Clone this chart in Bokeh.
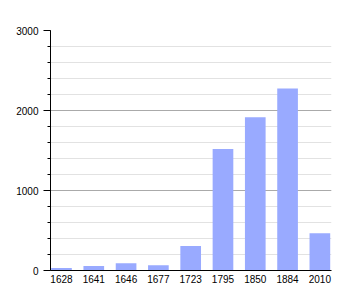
from bokeh.plotting import figure
from bokeh.models import Range1d, FixedTicker, SingleIntervalTicker
from bokeh.embed import file_html
from bokeh.resources import INLINE

years = ["1628", "1641", "1646", "1677", "1723", "1795", "1850", "1884", "2010"]
population = [30, 55, 90, 65, 305, 1520, 1915, 2275, 465]

xs = list(range(len(years)))

p = figure(width=360, height=300, output_backend="svg", toolbar_location=None,
           x_range=Range1d(-0.34, len(years) - 1 + 0.36), y_range=Range1d(0, 3000),
           min_border_left=50, min_border_right=29, min_border_top=30, min_border_bottom=30)
p.outline_line_color = None
p.background_fill_color = "white"
p.border_fill_color = "white"

p.vbar(x=xs, top=population, width=0.64, color="#99AAFF", line_color=None)

# y axis
p.yaxis.ticker = SingleIntervalTicker(interval=1000, num_minor_ticks=5)
p.yaxis.axis_line_color = "black"
p.yaxis.major_tick_line_color = "black"
p.yaxis.minor_tick_line_color = "black"
p.yaxis.major_tick_in = 0
p.yaxis.major_tick_out = 7
p.yaxis.minor_tick_in = 0
p.yaxis.minor_tick_out = 3
p.yaxis.major_label_standoff = 5
p.yaxis.major_label_text_font = "Liberation Sans"
p.yaxis.major_label_text_font_size = "10px"
p.yaxis.major_label_text_color = "black"

# x axis
p.xaxis.ticker = FixedTicker(ticks=xs)
p.xaxis.major_label_overrides = {i: y for i, y in enumerate(years)}
p.xaxis.axis_line_color = "black"
p.xaxis.major_tick_line_color = None
p.xaxis.minor_tick_line_color = None
p.xaxis.major_tick_out = 0
p.xaxis.major_tick_in = 0
p.xaxis.major_label_standoff = 4
p.xaxis.major_label_text_font = "Liberation Sans"
p.xaxis.major_label_text_font_size = "10px"
p.xaxis.major_label_text_color = "black"

p.xgrid.grid_line_color = None
p.ygrid.grid_line_color = "#AAAAAA"
p.ygrid.minor_grid_line_color = "#E2E2E2"

open("out.html", "w").write(file_html(p, INLINE))
